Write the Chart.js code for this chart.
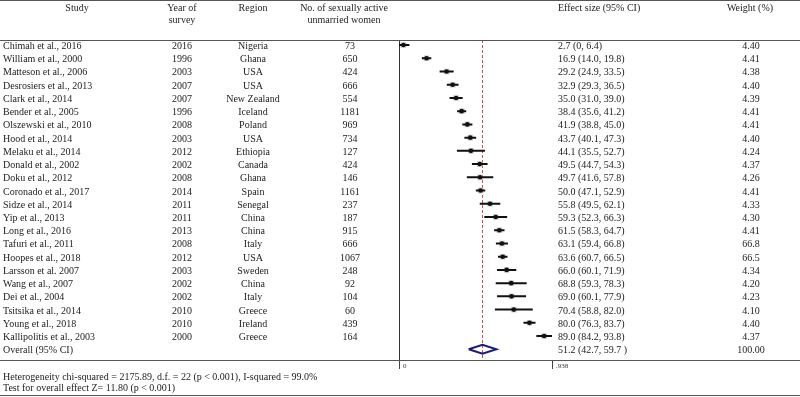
<!DOCTYPE html>
<html>
<head>
<meta charset="utf-8">
<script src="https://cdn.jsdelivr.net/npm/chart.js@4"></script>
<style>
  body { margin: 0; background: #fff; }
  #wrap { position: relative; width: 800px; height: 397px; font-family: "Liberation Serif", serif; font-size: 10px; color: #222; }
  #wrap canvas { position: absolute; left: 0; top: 0; }
  .t { position: absolute; white-space: nowrap; line-height: 12px; transform: translateY(-50%); }
  .c { transform: translate(-50%, -50%); }
  .rule { position: absolute; left: 0; width: 800px; height: 0; border-top: 1.5px solid #555; }
</style>
</head>
<body>
<div id="wrap">
  <canvas id="forest" width="800" height="397"></canvas>
</div>
<script>
// Data for the forest plot
const studies = ["Chimah et al., 2016", "William et al., 2000", "Matteson et al., 2006", "Desrosiers et al., 2013",
  "Clark et al., 2014", "Bender et al., 2005", "Olszewski et al., 2010", "Hood et al., 2014", "Melaku et al., 2014",
  "Donald et al., 2002", "Doku et al., 2012", "Coronado et al., 2017", "Sidze et al., 2014", "Yip et al., 2013",
  "Long et al., 2016", "Tafuri et al., 2011", "Hoopes et al., 2018", "Larsson et al. 2007", "Wang et al., 2007",
  "Dei et al., 2004", "Tsitsika et al., 2014", "Young et al., 2018", "Kallipolitis et al., 2003"];
const years = [2016, 1996, 2003, 2007, 2007, 1996, 2008, 2003, 2012, 2002, 2008, 2014, 2011, 2011, 2013, 2008, 2012, 2003, 2002, 2002, 2010, 2010, 2000];
const regions = ["Nigeria", "Ghana", "USA", "USA", "New Zealand", "Iceland", "Poland", "USA", "Ethiopia", "Canada", "Ghana",
  "Spain", "Senegal", "China", "China", "Italy", "USA", "Sweden", "China", "Italy", "Greece", "Ireland", "Greece"];
const women = [73, 650, 424, 666, 554, 1181, 969, 734, 127, 424, 146, 1161, 237, 187, 915, 666, 1067, 248, 92, 104, 60, 439, 164];
const effect = [2.7, 16.9, 29.2, 32.9, 35.0, 38.4, 41.9, 43.7, 44.1, 49.5, 49.7, 50.0, 55.8, 59.3, 61.5, 63.1, 63.6, 66.0, 68.8, 69.0, 70.4, 80.0, 89.0];
const lower = [0, 14.0, 24.9, 29.3, 31.0, 35.6, 38.8, 40.1, 35.5, 44.7, 41.6, 47.1, 49.5, 52.3, 58.3, 59.4, 60.7, 60.1, 59.3, 60.1, 58.8, 76.3, 84.2];
const upper = [6.4, 19.8, 33.5, 36.5, 39.0, 41.2, 45.0, 47.3, 52.7, 54.3, 57.8, 52.9, 62.1, 66.3, 64.7, 66.8, 66.5, 71.9, 78.3, 77.9, 82.0, 83.7, 93.8];
const weights = ["4.40", "4.41", "4.38", "4.40", "4.39", "4.41", "4.41", "4.40", "4.24", "4.37", "4.26", "4.41", "4.33", "4.30",
  "4.41", "66.8", "66.5", "4.34", "4.20", "4.23", "4.10", "4.40", "4.37"];
const overall = { label: "Overall (95% CI)", effect: 51.2, lower: 42.7, upper: 59.7, text: "51.2 (42.7, 59.7 )", weight: "100.00" };
const xTicks = [0, 93.8];
const footnotes = ["Heterogeneity chi-squared = 2175.89, d.f. = 22 (p < 0.001), I-squared = 99.0%",
  "Test for overall effect Z= 11.80 (p < 0.001)"];

const nRows = studies.length;
const overallRow = nRows;
const fmt = v => v === 0 ? "0" : v.toFixed(1);

// CI lines as one scatter line with gaps between studies
const ciPoints = [];
studies.forEach((s, i) => {
  ciPoints.push({ x: lower[i], y: i }, { x: upper[i], y: i }, { x: null, y: null });
});
const estPoints = effect.map((v, i) => ({ x: v, y: i }));
const dh = 0.34;
const diamond = [
  { x: overall.lower, y: overallRow }, { x: overall.effect, y: overallRow - dh },
  { x: overall.upper, y: overallRow }, { x: overall.effect, y: overallRow + dh },
  { x: overall.lower, y: overallRow }
];
const yMin = -0.38, yMax = 23.81;

const config = {
  type: 'scatter',
  data: {
    datasets: [
      // lower order = drawn on top
      { order: 4, data: [{ x: overall.effect, y: yMin }, { x: overall.effect, y: yMax }], showLine: true,
        borderColor: 'rgba(185,50,50,0.85)', borderWidth: 1, borderDash: [3, 2], pointRadius: 0, clip: false },
      { order: 3, data: estPoints, pointStyle: 'rect', pointRadius: 4, backgroundColor: 'rgba(195,195,195,0.85)', borderWidth: 0, clip: false },
      { order: 2, data: ciPoints, showLine: true, spanGaps: false, borderColor: '#111', borderWidth: 2, pointRadius: 0, clip: false },
      { order: 1, data: estPoints, pointStyle: 'circle', pointRadius: 2.3, backgroundColor: '#111', borderWidth: 0, clip: false },
      { order: 0, data: diamond, showLine: true, borderColor: '#1c1c78', borderWidth: 2, pointRadius: 0, clip: false }
    ]
  },
  options: {
    responsive: false,
    animation: false,
    events: [],
    layout: { padding: { left: 399, right: 248, top: 40, bottom: 0 } },
    plugins: { legend: { display: false }, tooltip: { enabled: false } },
    scales: {
      x: {
        type: 'linear',
        min: 0,
        max: 93.8,
        afterFit: s => { s.height = 37; },
        afterBuildTicks: s => { s.ticks = xTicks.map(v => ({ value: v })); },
        grid: { drawOnChartArea: false, color: '#444', tickLength: 9, tickWidth: 1 },
        border: { display: false },
        ticks: {
          align: 'start',
          labelOffset: 4,
          padding: -7,
          color: '#333',
          font: { family: 'Liberation Serif', size: 7 },
          callback: v => v === 0 ? '0' : (v / 100).toFixed(3).replace(/^0/, '')
        }
      },
      y: {
        type: 'linear',
        min: yMin,
        max: yMax,
        reverse: true,
        afterFit: s => { s.width = 0; },
        grid: { display: false },
        border: { display: true, color: '#333', width: 1 },
        ticks: { display: false }
      }
    }
  }
};

window.addEventListener('DOMContentLoaded', () => {
  const forestChart = new Chart(document.getElementById('forest'), config);
  const wrap = document.getElementById('wrap');
  const yScale = forestChart.scales.y;

  function addText(txt, x, y, centered) {
    const d = document.createElement('div');
    d.className = centered ? 't c' : 't';
    d.style.left = x + 'px';
    d.style.top = y + 'px';
    d.textContent = txt;
    wrap.appendChild(d);
  }
  function addRule(y) {
    const d = document.createElement('div');
    d.className = 'rule';
    d.style.top = y + 'px';
    wrap.appendChild(d);
  }

  // header
  addText("Study", 77, 8, true);
  addText("Year of", 182, 8, true);
  addText("survey", 182, 20, true);
  addText("Region", 253, 8, true);
  addText("No. of sexually active", 344, 8, true);
  addText("unmarried women", 344, 20, true);
  addText("Effect size (95% CI)", 558, 8, false);
  addText("Weight (%)", 750, 8, true);

  // study rows, placed on the chart's own y scale
  studies.forEach((s, i) => {
    const y = yScale.getPixelForValue(i) + 1;
    addText(s, 3, y, false);
    addText(String(years[i]), 182, y, true);
    addText(regions[i], 253, y, true);
    addText(String(women[i]), 350, y, true);
    addText(`${fmt(effect[i])} (${fmt(lower[i])}, ${fmt(upper[i])})`, 558, y, false);
    addText(weights[i], 751, y, true);
  });
  const yo = yScale.getPixelForValue(overallRow) + 1;
  addText(overall.label, 3, yo, false);
  addText(overall.text, 558, yo, false);
  addText(overall.weight, 751, yo, true);

  // footnotes
  addText(footnotes[0], 3, 377, false);
  addText(footnotes[1], 3, 388, false);

  // table rules
  addRule(0);
  addRule(39.5);
  addRule(359.5);
  addRule(395);
});
</script>
</body>
</html>
